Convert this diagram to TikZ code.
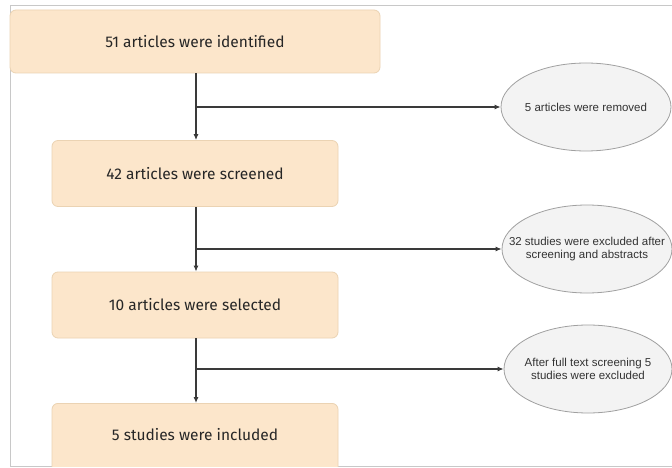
\documentclass[tikz,border=0pt]{standalone}
\usepackage{fontspec}
\setmainfont{Liberation Sans}
\newfontfamily\boxfont{Fira Sans}
\usetikzlibrary{shapes.geometric,arrows.meta}
\definecolor{boxfill}{HTML}{FCE6CB}
\definecolor{boxdraw}{HTML}{EBD3B3}
\definecolor{ellfill}{HTML}{F3F3F3}
\definecolor{elldraw}{HTML}{A0A0A0}
\definecolor{linecol}{HTML}{3A3A3A}
\definecolor{framecol}{HTML}{C8C8C8}
\begin{document}
\begin{tikzpicture}[x=1pt,y=-1pt,
  stagebox/.style={draw=boxdraw,fill=boxfill,rounded corners=6pt,line width=0.8pt,
     font=\boxfont\fontsize{15.5}{18}\selectfont,text=black!85},
  outcome/.style={ellipse,draw=elldraw,fill=ellfill,line width=0.8pt,inner sep=0pt,
     minimum width=170pt,minimum height=88pt},
  outtext/.style={font=\fontsize{11.5}{13.5}\selectfont,text=black!80,align=center},
  flow/.style={draw=linecol,line width=1.1pt,-{Latex[length=6pt,width=5pt]}}]
\useasboundingbox (0,0) rectangle (672,468);
\fill[white] (0,0) rectangle (672,468);
\draw[framecol,line width=1pt] (672,6) -- (10,6) -- (10,466) -- (672,466);
\begin{scope}
\clip (0,0) rectangle (672,466);
\node[stagebox,minimum width=370pt,minimum height=63pt] (b1) at (195,41.5) {51 articles were identified};
\node[stagebox,minimum width=286pt,minimum height=66pt] (b2) at (195,173.5) {42 articles were screened};
\node[stagebox,minimum width=286pt,minimum height=66pt] (b3) at (195,305) {10 articles were selected};
\node[stagebox,minimum width=286pt,minimum height=70pt,anchor=north] (b4) at (195,403) {};
\end{scope}
\node[font=\boxfont\fontsize{15.5}{18}\selectfont,text=black!85] (b4t) at (195,435) {5 studies were included};
\node[outcome] (e1) at (586,107) {};
\node[outtext] (e1t) at (e1.center) {5 articles were removed};
\node[outcome] (e2) at (587,249) {};
\node[outtext] (e2t) at (e2.center) {32 studies were excluded after\\screening and abstracts};
\node[outcome,minimum width=168pt] (e3) at (588,369) {};
\node[outtext] (e3t) at (e3.center) {After full text screening 5\\studies were excluded};
\coordinate (j1) at (196,107);
\coordinate (j2) at (196,249);
\coordinate (j3) at (196,369);
\draw[flow] (b1.south -| j1) -- (b2.north -| j1);
\draw[flow] (b2.south -| j2) -- (b3.north -| j2);
\draw[flow] (b3.south -| j3) -- (b4.north -| j3);
\draw[flow] (j1) -- (e1.west);
\draw[flow] (j2) -- (e2.west);
\draw[flow] (j3) -- (e3.west);
\end{tikzpicture}
\end{document}
